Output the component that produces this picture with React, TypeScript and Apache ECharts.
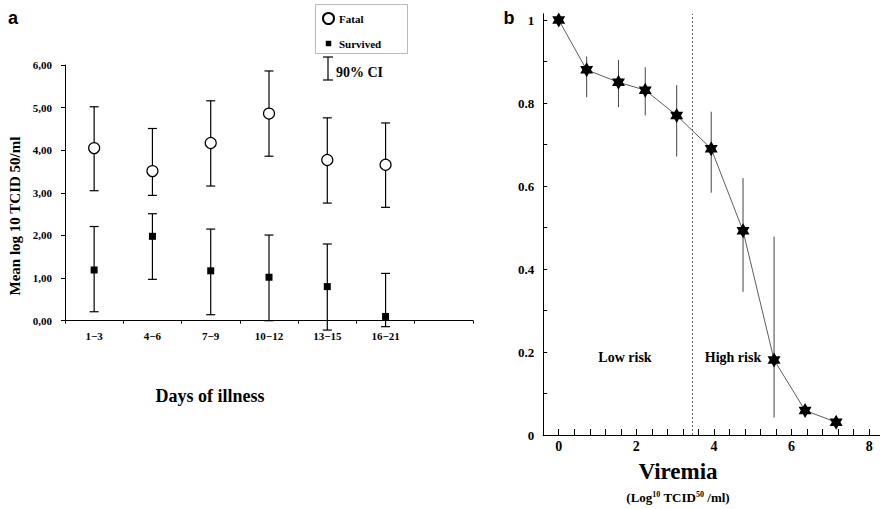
import React, { useEffect, useRef } from "react";
import * as echarts from "echarts";

// ---- Panel a: mean viremia by days of illness ----
const dayCategories = ["1\u22123", "4\u22126", "7\u22129", "10\u221212", "13\u221215", "16\u221221", ""];
const fatalMean = [4.05, 3.51, 4.17, 4.86, 3.77, 3.66];
const fatalLow = [3.05, 2.94, 3.16, 3.86, 2.76, 2.66];
const fatalHigh = [5.02, 4.51, 5.16, 5.86, 4.76, 4.64];
const survivedMean = [1.19, 1.98, 1.17, 1.02, 0.8, 0.1];
const survivedLow = [0.21, 0.97, 0.14, 0.0, -0.22, -0.14];
const survivedHigh = [2.21, 2.51, 2.15, 2.01, 1.8, 1.11];

// ---- Panel b: survival by viremia ----
const viremia = [0, 0.72, 1.54, 2.23, 3.04, 3.93, 4.75, 5.55, 6.35, 7.15];
const survival = [1.0, 0.88, 0.85, 0.831, 0.77, 0.69, 0.492, 0.181, 0.059, 0.031];
const survivalLow = [null, 0.814, 0.79, 0.77, 0.671, 0.584, 0.345, 0.042, null, null];
const survivalHigh = [null, 0.912, 0.904, 0.886, 0.843, 0.779, 0.619, 0.478, null, null];
const riskThreshold = 3.45;

const SERIF = '"Liberation Serif", "DejaVu Serif", serif';
const SANS = '"Liberation Sans", Arial, sans-serif';
const STAR =
  "path://M100,0 L128.9,50 L186.6,50 L157.7,100 L186.6,150 L128.9,150 L100,200 L71.1,150 L13.4,150 L42.3,100 L13.4,50 L71.1,50 Z";
const SMALL_SQUARE = "path://M0,0 M14,14 M3.5,3.5 L10.5,3.5 L10.5,10.5 L3.5,10.5 Z";

export default function App() {
  const ref = useRef<HTMLDivElement>(null);

  useEffect(() => {
    document.body.style.margin = "0";
    if (!ref.current) return;
    const chart = echarts.init(ref.current, undefined, { renderer: "svg" });

    const ciBars = (lo: (number | null)[], hi: (number | null)[], xs: number[]) =>
      lo
        .map((l, i) => (l === null || hi[i] === null ? null : [xs[i], l, hi[i]]))
        .filter((d) => d !== null);

    const idx = fatalMean.map((_, i) => i);

    const capBarRender = (params: any, api: any) => {
      const x = api.value(0);
      const pLo = api.coord([x, api.value(1)]);
      const pHi = api.coord([x, api.value(2)]);
      const half = 4.5;
      const st = { stroke: "#000", lineWidth: 1.2 };
      return {
        type: "group",
        children: [
          { type: "line", shape: { x1: pLo[0], y1: pLo[1], x2: pHi[0], y2: pHi[1] }, style: st },
          { type: "line", shape: { x1: pLo[0] - half, y1: pLo[1], x2: pLo[0] + half, y2: pLo[1] }, style: st },
          { type: "line", shape: { x1: pHi[0] - half, y1: pHi[1], x2: pHi[0] + half, y2: pHi[1] }, style: st },
        ],
      };
    };

    const plainBarRender = (params: any, api: any) => {
      const x = api.value(0);
      const pLo = api.coord([x, api.value(1)]);
      const pHi = api.coord([x, api.value(2)]);
      return {
        type: "line",
        shape: { x1: pLo[0], y1: pLo[1], x2: pHi[0], y2: pHi[1] },
        style: { stroke: "#444", lineWidth: 1 },
      };
    };

    const option: any = {
      animation: false,
      backgroundColor: "#fff",
      textStyle: { fontFamily: SERIF },
      grid: [
        { left: 65, top: 65, width: 408, height: 255.7 },
        { left: 543.2, top: 13.8, width: 336.8, height: 421.2 },
      ],
      legend: {
        orient: "vertical",
        left: 322,
        top: 12,
        padding: 0,
        itemWidth: 11,
        itemHeight: 11,
        itemGap: 13,
        selectedMode: false,
        textStyle: { fontFamily: SERIF, fontWeight: "bold", fontSize: 11, color: "#000" },
        data: [
          { name: "Fatal", icon: "circle" },
          { name: "Survived", icon: SMALL_SQUARE },
        ],
      },
      xAxis: [
        {
          type: "category",
          gridIndex: 0,
          data: dayCategories,
          boundaryGap: true,
          axisLine: { lineStyle: { color: "#000", width: 1 } },
          axisTick: { show: true, length: 3, lineStyle: { color: "#000" } },
          axisLabel: { color: "#000", fontFamily: SERIF, fontWeight: "bold", fontSize: 11, margin: 10 },
          splitLine: { show: false },
        },
        {
          type: "value",
          gridIndex: 1,
          min: -0.4,
          max: 8.28,
          interval: 0.4,
          axisLine: { onZero: false, lineStyle: { color: "#000", width: 1 } },
          axisTick: { show: true, inside: true, length: 6, lineStyle: { color: "#000" } },
          axisLabel: {
            color: "#000",
            fontFamily: SERIF,
            fontWeight: "bold",
            fontSize: 14,
            margin: 4,
            showMaxLabel: false,
            formatter: (v: number) => {
              const r = Math.round(v / 2);
              return v >= -1e-6 && Math.abs(v / 2 - r) < 1e-6 ? String(r * 2) : "";
            },
          },
          splitLine: { show: false },
        },
      ],
      yAxis: [
        {
          type: "value",
          gridIndex: 0,
          min: 0,
          max: 6,
          interval: 1,
          axisLine: { show: true, lineStyle: { color: "#000", width: 1 } },
          axisTick: { show: true, length: 4, lineStyle: { color: "#000" } },
          axisLabel: {
            color: "#000",
            fontFamily: SERIF,
            fontWeight: "bold",
            fontSize: 11,
            margin: 13,
            formatter: (v: number) => v.toFixed(2).replace(".", ","),
          },
          splitLine: { show: false },
        },
        {
          type: "value",
          gridIndex: 1,
          min: 0,
          max: 1.015,
          interval: 0.1,
          axisLine: { show: true, onZero: false, lineStyle: { color: "#000", width: 1 } },
          axisTick: { show: true, inside: true, length: 4, lineStyle: { color: "#000" } },
          axisLabel: {
            color: "#000",
            fontFamily: SERIF,
            fontWeight: "bold",
            fontSize: 13,
            margin: 9,
            showMaxLabel: false,
            formatter: (v: number) => {
              const k = Math.round(v * 10);
              if (v > 1.0001 || k % 2 !== 0) return "";
              if (k === 0) return "0";
              if (k === 10) return "1";
              return (k / 10).toFixed(1);
            },
          },
          splitLine: { show: false },
        },
      ],
      series: [
        {
          type: "custom",
          name: "Fatal CI",
          xAxisIndex: 0,
          yAxisIndex: 0,
          z: 1,
          silent: true,
          renderItem: capBarRender,
          encode: { x: 0, y: [1, 2] },
          data: idx.map((i) => [i, fatalLow[i], fatalHigh[i]]),
        },
        {
          type: "custom",
          name: "Survived CI",
          xAxisIndex: 0,
          yAxisIndex: 0,
          z: 1,
          silent: true,
          renderItem: capBarRender,
          encode: { x: 0, y: [1, 2] },
          data: idx.map((i) => [i, survivedLow[i], survivedHigh[i]]),
        },
        {
          type: "scatter",
          name: "Fatal",
          xAxisIndex: 0,
          yAxisIndex: 0,
          z: 3,
          symbol: "circle",
          symbolSize: 11,
          itemStyle: { color: "#fff", borderColor: "#000", borderWidth: 1.2, opacity: 1 },
          data: idx.map((i) => [i, fatalMean[i]]),
        },
        {
          type: "scatter",
          name: "Survived",
          xAxisIndex: 0,
          yAxisIndex: 0,
          z: 3,
          symbol: "rect",
          symbolSize: 7,
          itemStyle: { color: "#000", opacity: 1 },
          data: idx.map((i) => [i, survivedMean[i]]),
        },
        {
          type: "custom",
          name: "Survival CI",
          xAxisIndex: 1,
          yAxisIndex: 1,
          z: 1,
          silent: true,
          clip: false,
          renderItem: plainBarRender,
          encode: { x: 0, y: [1, 2] },
          data: ciBars(survivalLow, survivalHigh, viremia),
        },
        {
          type: "line",
          name: "Survival",
          xAxisIndex: 1,
          yAxisIndex: 1,
          z: 3,
          symbol: STAR,
          symbolSize: 15,
          symbolKeepAspect: true,
          showSymbol: true,
          itemStyle: { color: "#000" },
          lineStyle: { color: "#333", width: 0.8 },
          data: viremia.map((x, i) => [x, survival[i]]),
          markLine: {
            silent: true,
            symbol: ["none", "none"],
            label: { show: false },
            lineStyle: { color: "#666", width: 1, type: [2, 2] },
            data: [{ xAxis: riskThreshold }],
          },
        },
      ],
      graphic: [
        {
          type: "text",
          x: 13,
          y: 18,
          style: { text: "a", fontFamily: SANS, fontWeight: "bold", fontSize: 18, fill: "#000", align: "center", verticalAlign: "middle" },
        },
        {
          type: "text",
          x: 509,
          y: 18,
          style: { text: "b", fontFamily: SANS, fontWeight: "bold", fontSize: 18, fill: "#000", align: "center", verticalAlign: "middle" },
        },
        {
          type: "rect",
          shape: { x: 315.5, y: 4.5, width: 92, height: 49 },
          style: { fill: "none", stroke: "#777", lineWidth: 1, lineDash: [1, 1] },
        },
        {
          type: "line",
          shape: { x1: 328, y1: 57, x2: 328, y2: 80 },
          style: { stroke: "#000", lineWidth: 1.2 },
        },
        {
          type: "line",
          shape: { x1: 323, y1: 57, x2: 333, y2: 57 },
          style: { stroke: "#000", lineWidth: 1.2 },
        },
        {
          type: "line",
          shape: { x1: 323, y1: 80, x2: 333, y2: 80 },
          style: { stroke: "#000", lineWidth: 1.2 },
        },
        {
          type: "text",
          x: 336,
          y: 72,
          style: { text: "90% CI", fontFamily: SERIF, fontWeight: "bold", fontSize: 14, fill: "#000", align: "left", verticalAlign: "middle" },
        },
        {
          type: "text",
          x: 15,
          y: 216,
          rotation: Math.PI / 2,
          style: {
            text: "Mean log 10 TCID 50/ml",
            fontFamily: SERIF,
            fontWeight: "bold",
            fontSize: 15,
            fill: "#000",
            align: "center",
            verticalAlign: "middle",
          },
        },
        {
          type: "text",
          x: 210,
          y: 396,
          style: { text: "Days of illness", fontFamily: SERIF, fontWeight: "bold", fontSize: 18, fill: "#000", align: "center", verticalAlign: "middle" },
        },
        {
          type: "text",
          x: 625,
          y: 357,
          style: { text: "Low risk", fontFamily: SERIF, fontWeight: "bold", fontSize: 14, fill: "#000", align: "center", verticalAlign: "middle" },
        },
        {
          type: "text",
          x: 733,
          y: 357,
          style: { text: "High risk", fontFamily: SERIF, fontWeight: "bold", fontSize: 14, fill: "#000", align: "center", verticalAlign: "middle" },
        },
        {
          type: "text",
          x: 678,
          y: 471,
          style: { text: "Viremia", fontFamily: SERIF, fontWeight: "bold", fontSize: 23, fill: "#000", align: "center", verticalAlign: "middle" },
        },
        {
          type: "text",
          x: 678,
          y: 497,
          style: {
            text: "(Log{sup|10} TCID{sup|50} /ml)",
            fontFamily: SERIF,
            fontWeight: "bold",
            fontSize: 13,
            fill: "#000",
            align: "center",
            verticalAlign: "middle",
            rich: {
              sup: { fontFamily: SERIF, fontWeight: "bold", fontSize: 8, verticalAlign: "top", fill: "#000" },
            },
          },
        },
      ],
    };

    chart.setOption(option);
    return () => chart.dispose();
  }, []);

  return <div ref={ref} style={{ width: 880, height: 509 }} />;
}
